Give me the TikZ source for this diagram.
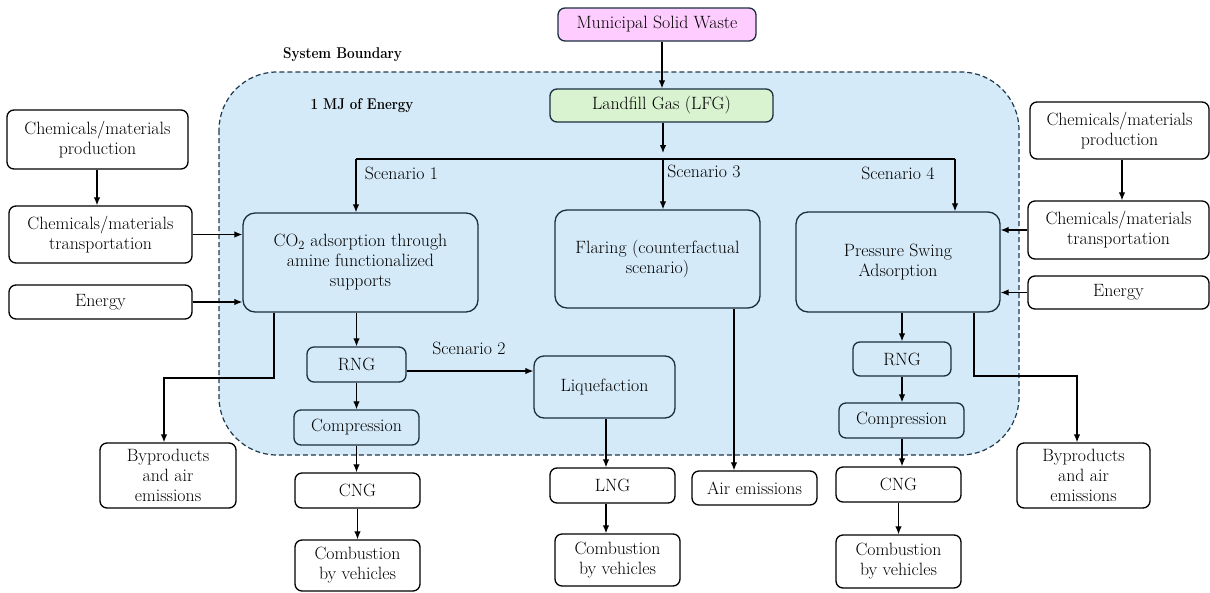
\documentclass[tikz,border=0pt]{standalone}
\usetikzlibrary{arrows.meta,calc}
\definecolor{bfill}{HTML}{D5EAF8}
\definecolor{bdash}{HTML}{1F3A4D}
\definecolor{pinkf}{HTML}{FFCCFF}
\definecolor{greenf}{HTML}{D9F2D0}
\definecolor{navy}{HTML}{1B2F3F}
\tikzset{
  box/.style={draw=black, line width=1.3pt, rounded corners=7pt, fill=white, align=center, inner sep=0pt,
    font=\fontsize{17.8}{20}\selectfont},
  bluebox/.style={box, draw=navy, fill=bfill},
  bigbox/.style={bluebox, rounded corners=12pt},
  arr/.style={line width=1.2pt, -{Latex[length=8pt,width=6.5pt]}},
  plain/.style={line width=1.2pt},
  lbl/.style={font=\fontsize{17.8}{20}\selectfont, inner sep=0pt},
  blbl/.style={font=\fontsize{15.6}{18}\selectfont\bfseries, inner sep=0pt},
}
\begin{document}
\begin{tikzpicture}[x=1pt,y=-1pt]
\useasboundingbox (0,0) rectangle (1210,592);
% system boundary
\draw[dash pattern=on 5pt off 3pt, line width=1.2pt, draw=bdash, fill=bfill, rounded corners=58pt] (219,72) rectangle (1019,455);
\node[blbl] (sb) at (342.5,55) {\scalebox{0.87}[1]{System Boundary}};
\node[blbl] (mj) at (362,106) {\scalebox{0.85}[1]{1 MJ of Energy}};

% top nodes
\node[box, draw=navy, fill=pinkf, minimum width=198, minimum height=33] (msw) at (657,24.5) {Municipal Solid Waste};
\node[box, draw=navy, fill=greenf, minimum width=223, minimum height=33] (lfg) at (661.5,105.5) {Landfill Gas (LFG)};

% left inputs
\node[box, minimum width=181, minimum height=59] (lprod) at (97.5,139.5) {Chemicals/materials\\production};
\node[box, minimum width=183, minimum height=57] (ltrans) at (100.5,234.5) {Chemicals/materials\\transportation};
\node[box, minimum width=183, minimum height=34] (lenergy) at (100.5,302) {Energy};

% right inputs
\node[box, minimum width=179, minimum height=57] (rprod) at (1119.5,130.5) {Chemicals/materials\\production};
\node[box, minimum width=181, minimum height=58] (rtrans) at (1118.5,230) {Chemicals/materials\\transportation};
\node[box, minimum width=181, minimum height=33] (renergy) at (1118.5,292.5) {Energy};

% main process boxes
\node[bigbox, minimum width=235, minimum height=99] (co2) at (360.5,262.5) {CO\textsubscript{2} adsorption through\\amine functionalized\\supports};
\node[bigbox, minimum width=205, minimum height=98] (flare) at (657.5,259) {Flaring (counterfactual\\scenario)};
\node[bigbox, minimum width=204, minimum height=100] (psa) at (898,262) {Pressure Swing\\Adsorption};

% scenario 1 / 2 chain
\node[bluebox, minimum width=99, minimum height=35] (rng1) at (356.5,364.5) {RNG};
\node[bluebox, minimum width=125, minimum height=35] (comp1) at (356.5,427.5) {Compression};
\node[box, minimum width=125, minimum height=35] (cng1) at (357.5,490.5) {CNG};
\node[box, minimum width=125, minimum height=51] (comb1) at (357.5,565.5) {Combustion\\by vehicles};
\node[box, minimum width=136, minimum height=65] (byp1) at (168,475.5) {Byproducts\\and air\\emissions};
\node[bluebox, rounded corners=10pt, minimum width=141, minimum height=62] (liq) at (604.5,387) {Liquefaction};
\node[box, minimum width=125, minimum height=35] (lng) at (612.5,485.5) {LNG};
\node[box, minimum width=125, minimum height=52] (comb2) at (617.5,560) {Combustion\\by vehicles};
\node[box, minimum width=125, minimum height=34] (air) at (754.5,488) {Air emissions};

% scenario 4 chain
\node[bluebox, minimum width=98, minimum height=34] (rng2) at (902,359) {RNG};
\node[bluebox, minimum width=125, minimum height=35] (comp2) at (901.5,420.5) {Compression};
\node[box, minimum width=125, minimum height=35] (cng2) at (898.5,484.5) {CNG};
\node[box, minimum width=125, minimum height=53] (comb3) at (898.5,561.5) {Combustion\\by vehicles};
\node[box, minimum width=133, minimum height=65] (byp2) at (1083.5,475.5) {Byproducts\\and air\\emissions};

% labels
\node[lbl] (s1) at (401.5,173) {Scenario 1};
\node[lbl] (s2) at (469,348) {Scenario 2};
\node[lbl] (s3) at (704,171) {Scenario 3};
\node[lbl] (s4) at (898,173) {Scenario 4};

% coordinates
\coordinate (xm) at (662,0);
\coordinate (xl) at (663,0);
\coordinate (hL) at (356,159);
\coordinate (hM) at (663,159);
\coordinate (hR) at (955,159);
\coordinate (lstop) at (663,153);
\coordinate (b1) at (274,378);
\coordinate (b1e) at (164,378);
\coordinate (b2) at (974,376);
\coordinate (b2e) at (1077,376);
\coordinate (xq) at (606,0);
\coordinate (xa) at (734,0);
\coordinate (xp) at (1122,0);
\coordinate (xlp) at (97,0);

% connectors
\draw[arr] (msw.south -| xm) -- (lfg.north -| xm);
\draw[arr] (lfg.south -| xl) -- (lstop);
\draw[plain] (hL) -- (hR);
\draw[arr] (hL) -- (hL |- co2.north);
\draw[arr] (hM) -- (hM |- flare.north);
\draw[arr] (hR) -- (hR |- psa.north);

\draw[arr] (lprod.south -| xlp) -- (ltrans.north -| xlp);
\draw[arr] (ltrans.east) -- (ltrans.east -| co2.west);
\draw[arr] (lenergy.east) -- (lenergy.east -| co2.west);

\draw[arr] (rprod.south -| xp) -- (rtrans.north -| xp);
\draw[arr] (rtrans.west) -- (rtrans.west -| psa.east);
\draw[arr] (renergy.west) -- (renergy.west -| psa.east);

\draw[arr] (rng1.north |- co2.south) -- (rng1.north);
\draw[arr] (co2.south -| b1) -- (b1) -- (b1e) -- (byp1.north -| b1e);
\draw[arr] ([yshift=-6.5pt]rng1.east) coordinate (t1) -- (t1 -| liq.west);
\draw[arr] (rng1.south) -- (rng1.south |- comp1.north);
\draw[arr] (comp1.south) -- (comp1.south |- cng1.north);
\draw[arr] (cng1.south) -- (cng1.south |- comb1.north);

\draw[arr] (liq.south -| xq) -- (lng.north -| xq);
\draw[arr] (lng.south -| xq) -- (comb2.north -| xq);
\draw[arr] (flare.south -| xa) -- (air.north -| xa);

\draw[arr] (rng2.north |- psa.south) -- (rng2.north);
\draw[arr] (rng2.south) -- (rng2.south |- comp2.north);
\draw[arr] (comp2.south -| rng2.south) -- (cng2.north -| rng2.south);
\draw[arr] (cng2.south) -- (cng2.south |- comb3.north);
\draw[arr] (psa.south -| b2) -- (b2) -- (b2e) -- (byp2.north -| b2e);
\end{tikzpicture}
\end{document}
